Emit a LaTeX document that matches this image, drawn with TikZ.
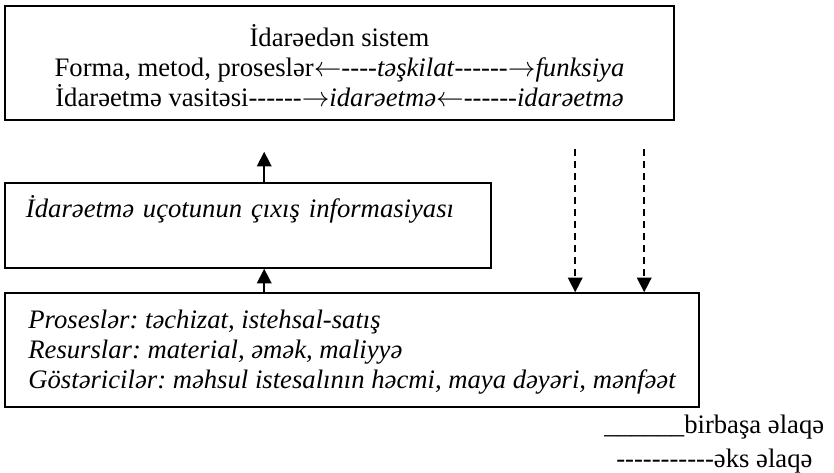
\documentclass[tikz,border=0pt]{standalone}
\usepackage{fontspec}
\setmainfont{Liberation Serif}[Ligatures=TeXOff]
\usetikzlibrary{arrows.meta,positioning}
\frenchspacing
\newcommand\la{$\leftarrow$}
\newcommand\ra{$\rightarrow$}
\tikzset{
  box/.style={
    rectangle, draw=black, line width=1.2pt,
    font=\fontsize{20pt}{22.5pt}\selectfont,
    inner xsep=15.75pt, inner ysep=0pt
  },
  itbox/.style={box, font=\fontsize{20pt}{22.5pt}\selectfont\itshape},
  flow/.style={-{Triangle[length=11pt,width=11pt]}, line width=1.3pt},
  back/.style={flow, dash pattern=on 5.5pt off 3.5pt},
  legend/.style={font=\fontsize{20pt}{22.5pt}\selectfont, inner sep=0pt}
}

\begin{document}
\begin{tikzpicture}[x=0.75pt, y=-0.75pt]
  \useasboundingbox (0,0) rectangle (834,472);

  % managing system
  \node[box, minimum width=501.75pt, minimum height=85.5pt, align=center,
        text height=66pt] (sys) at (339.5,63)
    {İdarəedən sistem\\
     Forma, metod, proseslər\la----\textit{təşkilat}------\ra\textit{funksiya}\\
     İdarəetmə vasitəsi------\ra\textit{idarəetmə}\la------\textit{idarəetmə}};

  % output information
  \node[itbox, minimum width=364.5pt, minimum height=63.75pt, text width=333pt,
        align=left, text depth=28pt] (info) at (248,225.5)
    {İdarəetmə uçotunun çıxış informasiyası};

  % managed object
  \node[itbox, minimum width=520.5pt, minimum height=85.5pt, align=left,
        text height=62.5pt] (proc) at (352,350)
    {Proseslər: təchizat, istehsal-satış\\
     Resurslar: material, əmək, maliyyə\\
     Göstəricilər: məhsul istesalının həcmi, maya dəyəri, mənfəət};

  % arrows
  \draw[flow] ([xshift=195pt]proc.north west) -- ([xshift=195pt]info.south west);
  \draw[flow, shorten >=23.25pt] ([xshift=195pt]info.north west) -- ([xshift=195pt]sys.south west);
  \draw[back, shorten <=21pt] ([xshift=428.25pt]sys.south west) -- ([xshift=428.25pt]proc.north west);
  \draw[back, shorten <=21pt] ([xshift=480pt]sys.south west) -- ([xshift=480pt]proc.north west);

  % legend
  \node[legend, anchor=base west] (direct) at (604,433) {\_\_\_\_\_\_birbaşa əlaqə};
  \node[legend, anchor=base west] (feedback) at (616,467) {-----------əks əlaqə};
\end{tikzpicture}
\end{document}
